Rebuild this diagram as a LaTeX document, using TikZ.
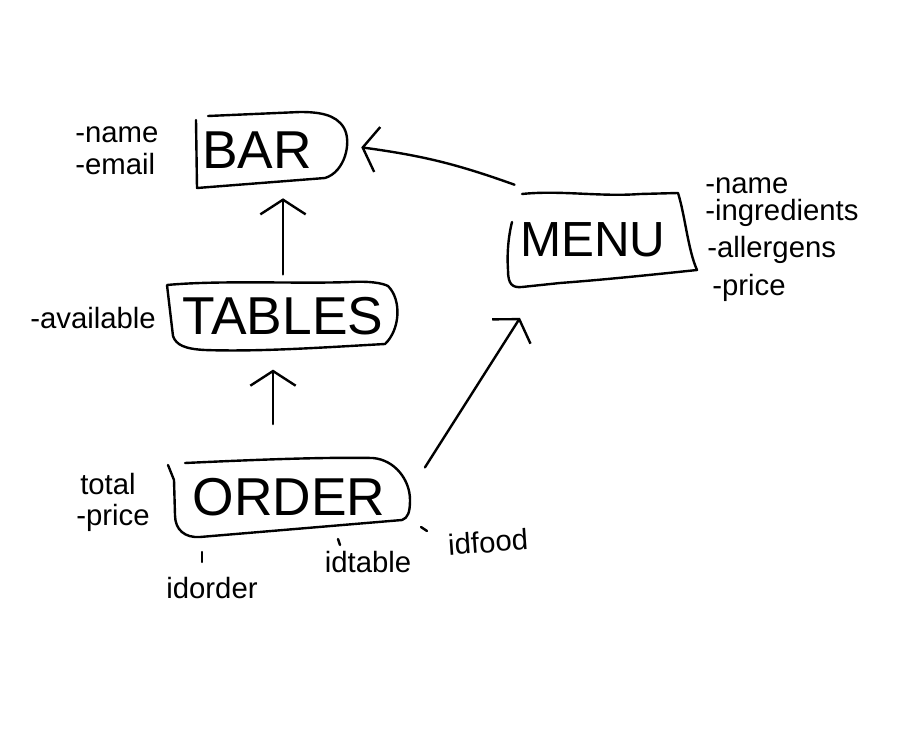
\documentclass[tikz,border=0pt]{standalone}
\usepackage{fontspec}
\setmainfont{Liberation Sans}
\usetikzlibrary{arrows.meta,calc}
\tikzset{
  ink/.style={line width=1.8pt, line cap=round, line join=round},
  boxlabel/.style={font=\fontsize{40}{44}\selectfont, inner sep=0pt, align=center},
  attr/.style={font=\fontsize{22}{24}\selectfont, inner sep=0pt, anchor=west},
  sattr/.style={font=\fontsize{22}{24}\selectfont, inner sep=0pt},
  arr/.style={ink, -{Straight Barb[length=11pt,width=34pt,line width=1.8pt]}},
}
\begin{document}
\begin{tikzpicture}[x=0.75pt,y=-0.75pt]
\useasboundingbox (0,0) rectangle (899,731);

% box nodes (outlines drawn as hand paths below)
\node[boxlabel, minimum width=113pt, minimum height=57pt] (bar) at (271,150) {BAR\hspace*{21pt}};
\node[boxlabel, font=\fontsize{37}{40}\selectfont, minimum width=142pt, minimum height=70.5pt] (menu) at (602,240) {MENU\hspace*{14pt}};
\node[boxlabel, minimum width=175pt, minimum height=50pt] (tables) at (283,316) {TABLES};
\node[boxlabel, minimum width=181.5pt, minimum height=59pt] (order) at (289,497) {ORDER};

% outlines
\draw[ink] (196,120) -- (197,188) -- (325,178)
  .. controls (345,172) and (352,142) .. (344,128)
  .. controls (336,114) and (318,112) .. (300,112) -- (208,116);
\draw[ink] (522,194) .. controls (560,190) and (600,197) .. (640,194) -- (678,193)
  .. controls (685,215) and (688,250) .. (697,270)
  .. controls (640,276) and (600,280) .. (560,283) -- (522,287)
  .. controls (512,288) and (508,284) .. (508,270)
  .. controls (507,255) and (508,238) .. (512,222);
\draw[ink] (167,285) .. controls (220,280) and (300,284) .. (350,282)
  .. controls (370,281) and (382,283) .. (388,286)
  .. controls (402,300) and (400,330) .. (385,344)
  .. controls (330,347) and (260,352) .. (205,350)
  .. controls (185,349) and (176,345) .. (173,336) -- (167,285);
\draw[ink] (185,463) .. controls (250,460) and (320,457) .. (373,458)
  .. controls (395,460) and (410,480) .. (410,500)
  .. controls (410,512) and (408,518) .. (402,520) -- (200,537)
  .. controls (185,538) and (175,530) .. (175,515) -- (174,480) -- (168,465);

% connectors
\draw[arr, shorten <=6pt, shorten >=7.5pt] (tables.north) -- (tables.north |- bar.south);
\draw[arr, shorten <=25pt, shorten >=15pt] ([xshift=-12pt]order.north) -- ([xshift=-12pt]order.north |- tables.south);
\draw[arr] ([xshift=11pt,yshift=-7.5pt]order.north east) -- ([xshift=-61.5pt,yshift=-23pt]menu.south);
\draw[arr] ([xshift=5.6pt,yshift=6pt]menu.north west) to[bend right=6] ([xshift=11pt,yshift=2pt]bar.east);

% attributes
\node[attr] (barname) at (75,135) {-name};
\node[attr] (baremail) at (75,164) {-email};
\node[attr] (tabavail) at (30,318) {-available};
\node[attr] (menuname) at (705,186) {-name};
\node[attr] (menuingr) at (705,213) {-ingredients};
\node[attr] (menuall) at (707,250) {-allergens};
\node[attr] (menuprice) at (712,288) {-price};
\node[attr] (ordtotal) at (80,484) {total};
\node[attr] (ordprice) at (76,518) {-price};
\node[sattr] (idorder) at (212,588) {idorder};
\node[sattr] (idtable) at (368,562) {idtable};
\node[sattr, rotate=4] (idfood) at (488,542) {idfood};

% small ticks
\draw[ink] (202,552) -- (202,562);
\draw[ink] (338,539) -- (340,545);
\draw[ink] (421,527) -- (427,531);
\end{tikzpicture}
\end{document}
